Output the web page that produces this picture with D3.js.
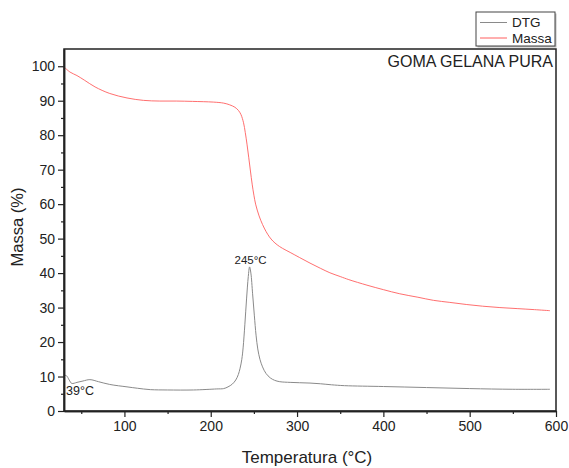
<!DOCTYPE html>
<html>
<head>
<meta charset="utf-8">
<script src="https://cdn.jsdelivr.net/npm/d3@7"></script>
<style>
    body { margin: 0; background: #fff; }
    svg text { font-family: "Liberation Sans", Arial, sans-serif; fill: #222; }
</style>
</head>
<body>
<div id="chart"></div>
<script>
// Data
const tempMassa = [30, 37, 45, 54, 66, 83, 103, 122, 141, 160, 179, 203, 215, 222, 228, 232, 235, 238, 240, 242, 244, 246, 248, 250, 252, 256, 260, 264, 268, 272, 277, 283, 292, 303, 315, 327, 338, 350, 360, 381, 400, 419, 440, 458, 477, 496, 515, 535, 555, 575, 593];
const massa = [99.8, 98.3, 97.3, 95.9, 94, 92.1, 90.8, 90.1, 89.9, 89.9, 89.8, 89.6, 89.3, 88.8, 88.1, 87.2, 86.0, 83.6, 80.8, 77.4, 73.6, 69.6, 65.8, 62.6, 60.0, 56.6, 54.1, 52.1, 50.5, 49.3, 48.2, 47.2, 46.0, 44.5, 42.9, 41.4, 40.1, 39.0, 38.1, 36.5, 35.2, 34, 33, 32.1, 31.5, 30.9, 30.4, 30, 29.7, 29.4, 29.1];

const tempDtg = [30, 33, 36, 39, 45, 52, 60, 70, 83, 103, 115, 130, 150, 180, 207, 215, 220, 225, 229, 232, 234, 236, 237.5, 239.5, 241.5, 243.5, 245, 246.5, 248.5, 250.5, 252.5, 254.5, 257, 260, 264, 269, 274, 280, 292, 303, 315, 327, 340, 355, 400, 450, 500, 550, 593];
const dtg = [10.4, 10.2, 9.0, 8.0, 8.3, 8.7, 9.1, 8.5, 7.7, 7.0, 6.6, 6.2, 6.1, 6.1, 6.4, 6.5, 7.0, 7.8, 9.0, 10.6, 12.4, 15, 18.3, 25, 32.5, 39, 41.8, 40, 34, 27.8, 22, 18, 15, 12.8, 10.9, 9.6, 8.9, 8.5, 8.3, 8.2, 8.1, 7.9, 7.6, 7.35, 7.1, 6.8, 6.5, 6.3, 6.3];

const xTicks = [100, 200, 300, 400, 500, 600];
const xMinor = [50, 150, 250, 350, 450, 550];
const yTicks = [0, 10, 20, 30, 40, 50, 60, 70, 80, 90, 100];
const yMinor = [5, 15, 25, 35, 45, 55, 65, 75, 85, 95];

const seriesNames = ["DTG", "Massa"];
const seriesColors = ["#8a8a8a", "#ff5f5f"];

function drawChart() {
    const overall_width = 569;
    const overall_height = 468;
    const margin = {l: 64, r: 13, t: 49, b: 57};
    const width = overall_width - margin.l - margin.r;
    const height = overall_height - margin.t - margin.b;

    let outerSvg = d3.select("#chart")
        .append("svg")
        .attr("width", overall_width)
        .attr("height", overall_height);

    let svg = outerSvg.append("g")
        .attr("transform", `translate(${margin.l}, ${margin.t})`);

    let scaleX = d3.scaleLinear().domain([30, 600]).range([0, width]);
    let scaleY = d3.scaleLinear().domain([0, 105]).range([height, 0]);

    //lines
    let line = d3.line()
        .x(d => scaleX(d[0]))
        .y(d => scaleY(d[1]))
        .curve(d3.curveCatmullRom.alpha(0.5));

    let massaData = tempMassa.map((t, i) => [t, massa[i]]);
    let dtgData = tempDtg.map((t, i) => [t, dtg[i]]);

    svg.append("path")
        .attr("d", line(dtgData))
        .attr("fill", "none")
        .attr("stroke", seriesColors[0])
        .attr("stroke-width", 1);

    svg.append("path")
        .attr("d", line(massaData))
        .attr("fill", "none")
        .attr("stroke", seriesColors[1])
        .attr("stroke-width", 0.9);

    //frame
    svg.append("rect")
        .attr("width", width)
        .attr("height", height)
        .attr("fill", "none")
        .attr("stroke", "#222")
        .attr("stroke-width", 1.5);

    //axes
    svg.append("g")
        .attr("transform", `translate(0, ${height})`)
        .call(d3.axisBottom(scaleX).tickValues(xTicks).tickSize(6).tickPadding(4).tickSizeOuter(0));
    svg.append("g")
        .attr("transform", `translate(0, ${height})`)
        .call(d3.axisBottom(scaleX).tickValues(xMinor).tickSize(3).tickFormat("").tickSizeOuter(0));

    svg.append("g")
        .call(d3.axisLeft(scaleY).tickValues(yTicks).tickSize(6).tickPadding(3).tickSizeOuter(0));
    svg.append("g")
        .call(d3.axisLeft(scaleY).tickValues(yMinor).tickSize(3).tickFormat("").tickSizeOuter(0));

    svg.selectAll(".domain").attr("stroke", "#222").attr("stroke-width", 1.5);
    svg.selectAll(".tick line").attr("stroke", "#222").attr("stroke-width", 1.2);
    svg.selectAll(".tick text")
        .attr("font-size", 14)
        .attr("font-family", "Liberation Sans, Arial, sans-serif")
        .attr("fill", "#222");

    //axis titles
    svg.append("text")
        .attr("x", width / 2 - 3)
        .attr("y", height + 52)
        .attr("text-anchor", "middle")
        .attr("font-size", 17)
        .text("Temperatura (°C)");

    svg.append("text")
        .attr("transform", `translate(${-41}, ${height / 2 - 3}) rotate(-90)`)
        .attr("text-anchor", "middle")
        .attr("font-size", 16.5)
        .text("Massa (%)");

    //title
    svg.append("text")
        .attr("x", width - 3)
        .attr("y", 18)
        .attr("text-anchor", "end")
        .attr("font-size", 16)
        .text("GOMA GELANA PURA");

    //annotations
    svg.append("text")
        .attr("x", scaleX(245) + 1)
        .attr("y", scaleY(41.8) - 3)
        .attr("text-anchor", "middle")
        .attr("font-size", 11.5)
        .text("245°C");

    svg.append("text")
        .attr("x", 2)
        .attr("y", scaleY(4.6))
        .attr("font-size", 12.5)
        .text("39°C");

    //legend
    let legend = outerSvg.append("g")
        .attr("transform", "translate(476, 12)");
    legend.append("rect")
        .attr("x", 1.5).attr("y", 1.5)
        .attr("width", 79).attr("height", 34)
        .attr("fill", "#bbb");
    legend.append("rect")
        .attr("width", 79).attr("height", 34)
        .attr("fill", "#fff")
        .attr("stroke", "#444")
        .attr("stroke-width", 1);
    seriesNames.forEach((name, i) => {
        let yPos = 10.5 + i * 15.5;
        legend.append("line")
            .attr("x1", 4).attr("x2", 31)
            .attr("y1", yPos).attr("y2", yPos)
            .attr("stroke", seriesColors[i])
            .attr("stroke-width", 1);
        legend.append("text")
            .attr("x", 36)
            .attr("y", yPos + 4.5)
            .attr("font-size", 13.5)
            .text(name);
    });
}

drawChart();
</script>
</body>
</html>
